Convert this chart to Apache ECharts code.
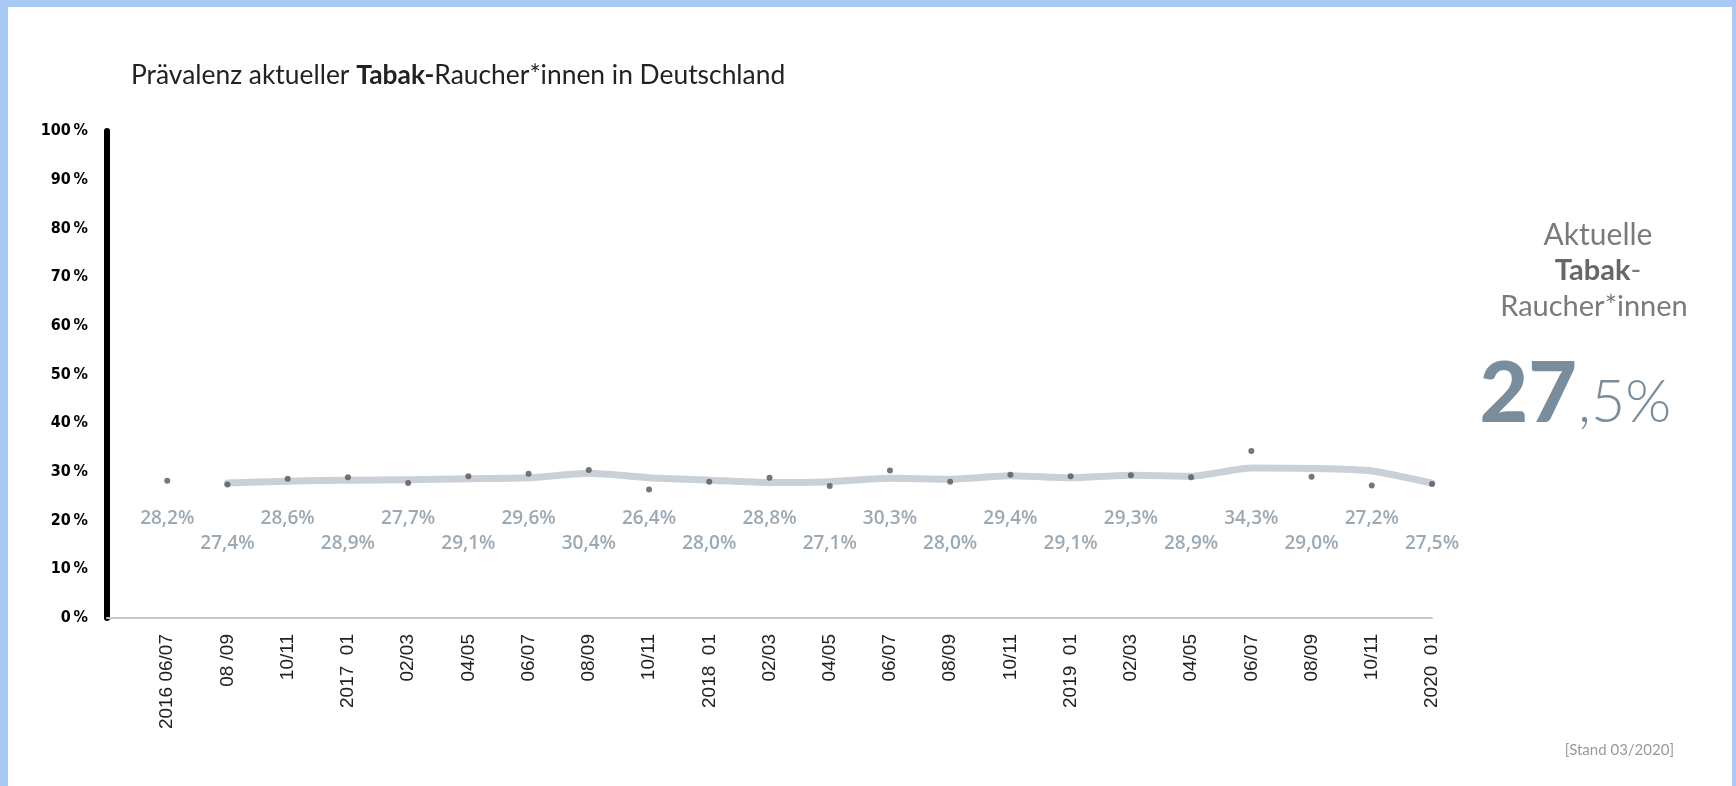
<!DOCTYPE html>
<html>
<head>
<meta charset="utf-8">
<script src="https://cdn.jsdelivr.net/npm/echarts@6/dist/echarts.min.js"></script>
<style>
  html, body { margin: 0; padding: 0; background: #ffffff; }
  #chart { position: absolute; left: 0; top: 0; width: 1736px; height: 786px; }
  .frame { position: absolute; background: #a9c9f5; z-index: 10; }
</style>
</head>
<body>
<div id="chart"></div>
<div class="frame" style="left:0;top:0;width:1736px;height:7px;"></div>
<div class="frame" style="left:0;top:0;width:8px;height:786px;"></div>
<div class="frame" style="right:0;top:0;width:4px;height:786px;"></div>
<script>
// ---- data ----
const categories = ['2016 06/07', '08 /09', '10/11', '2017  01', '02/03', '04/05', '06/07', '08/09', '10/11',
  '2018  01', '02/03', '04/05', '06/07', '08/09', '10/11', '2019  01', '02/03', '04/05', '06/07',
  '08/09', '10/11', '2020  01'];
const prevalence = [28.2, 27.4, 28.6, 28.9, 27.7, 29.1, 29.6, 30.4, 26.4, 28.0, 28.8, 27.1, 30.3, 28.0,
  29.4, 29.1, 29.3, 28.9, 34.3, 29.0, 27.2, 27.5];
const trend = [null, 27.7, 28.1, 28.3, 28.4, 28.6, 28.8, 29.7, 28.8, 28.3, 27.8, 28.0, 28.7, 28.5,
  29.2, 28.8, 29.3, 29.1, 30.8, 30.7, 30.2, 27.7];
const yTicks = [0, 10, 20, 30, 40, 50, 60, 70, 80, 90, 100];
const currentInt = '27';
const currentDec = ',5%';

// ---- layout ----
const grid = { left: 107, right: 304, top: 131, bottom: 168 };
const gridH = 786 - grid.top - grid.bottom;
const pxPerPct = gridH / 100;
const labelRows = [20.5, 15.3]; // label rows (in axis %), alternating

const fmt = v => v.toFixed(1).replace('.', ',') + '%';

const xData = [''].concat(categories);
const dotData = [null].concat(prevalence.map((v, i) => ({
  value: v,
  label: {
    show: true,
    position: 'inside',
    offset: [0, (v - labelRows[i % 2]) * pxPerPct],
    formatter: fmt(v)
  }
})));
const lineData = [null].concat(trend);

const chart = echarts.init(document.getElementById('chart'), null, { renderer: 'canvas' });
chart.setOption({
  animation: false,
  backgroundColor: '#ffffff',
  title: {
    left: 126, top: 57,
    text: '{n|Prävalenz aktueller }{b|Tabak-}{n|Raucher*innen in Deutschland}',
    textStyle: {
      rich: {
        n: { fontFamily: 'Lato', fontSize: 26.4, color: '#222', fontWeight: 'normal' },
        b: { fontFamily: 'Lato', fontSize: 26.4, color: '#222', fontWeight: 'bold' }
      }
    }
  },
  grid: grid,
  xAxis: {
    type: 'category',
    data: xData,
    boundaryGap: false,
    axisLine: { show: true, lineStyle: { color: '#c8c8c8', width: 2 } },
    axisTick: { show: false },
    axisLabel: {
      rotate: 90, interval: 0, margin: 16,
      fontFamily: 'Liberation Sans', fontSize: 19, color: '#222'
    },
    splitLine: { show: false }
  },
  yAxis: {
    type: 'value',
    min: yTicks[0], max: yTicks[yTicks.length - 1], interval: 10,
    axisLine: { show: true, lineStyle: { color: '#000', width: 6 } },
    axisTick: { show: false },
    splitLine: { show: false },
    axisLabel: {
      margin: 19,
      formatter: '{value}\u2009%',
      fontFamily: '"DejaVu Sans Condensed", "DejaVu Sans"', fontWeight: 'bold', fontSize: 16, color: '#000'
    }
  },
  series: [
    {
      type: 'line',
      data: lineData,
      symbol: 'none',
      smooth: 0.2,
      connectNulls: false,
      lineStyle: { color: '#c9d0d7', width: 7, cap: 'round', join: 'round' },
      z: 2
    },
    {
      type: 'scatter',
      data: dotData,
      symbolSize: 6,
      itemStyle: { color: '#555' },
      label: {
        fontFamily: 'Open Sans', fontWeight: 600, fontSize: 19, color: '#8294a3'
      },
      z: 3
    }
  ],
  graphic: [
    { type: 'text', x: 1598, y: 235, style: { text: 'Aktuelle', textAlign: 'center', textVerticalAlign: 'middle',
      font: '30px Lato', fill: '#7a7a7a' } },
    { type: 'text', x: 1598, y: 271, style: { text: '{b|Tabak}-', textAlign: 'center', textVerticalAlign: 'middle',
      font: '29px Lato', fill: '#7a7a7a',
      rich: { b: { fontFamily: 'Lato', fontWeight: 'bold', fontSize: 29, fill: '#666' } } } },
    { type: 'text', x: 1594, y: 307, style: { text: 'Raucher*innen', textAlign: 'center', textVerticalAlign: 'middle',
      font: '29px Lato', fill: '#7a7a7a' } },
    { type: 'text', x: 1577, y: 395, style: { text: currentInt, textAlign: 'right', textVerticalAlign: 'middle',
      font: '900 84px Lato', fill: '#7a8d9c' } },
    { type: 'text', x: 1578, y: 403, style: { text: currentDec, textAlign: 'left', textVerticalAlign: 'middle',
      font: '300 59px Lato', fill: '#7a8d9c' } },
    { type: 'text', x: 1674, y: 750, style: { text: '[Stand 03/2020]', textAlign: 'right', textVerticalAlign: 'middle',
      font: '15px Lato', fill: '#999' } }
  ]
});
</script>
</body>
</html>
